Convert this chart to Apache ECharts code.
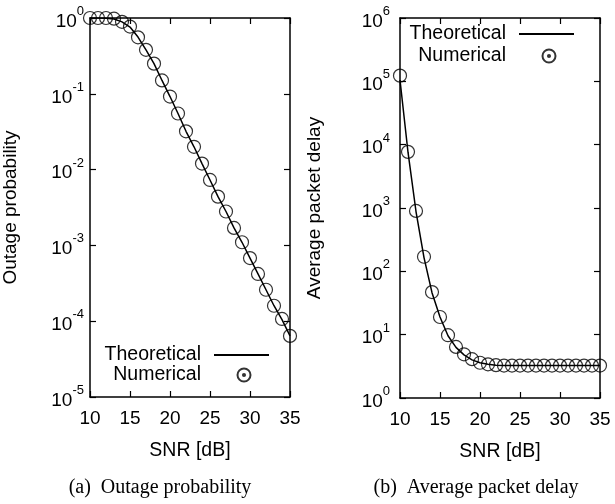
<!DOCTYPE html>
<html>
<head>
<meta charset="utf-8">
<script src="https://cdn.jsdelivr.net/npm/echarts@6/dist/echarts.min.js"></script>
<style>
  html, body { margin: 0; padding: 0; background: #fff; }
  #chart { width: 615px; height: 504px; }
</style>
</head>
<body>
<div id="chart"></div>
<script>
// SNR [dB]
const snr = [10, 11, 12, 13, 14, 15, 16, 17, 18, 19, 20, 21, 22, 23, 24, 25, 26, 27, 28, 29, 30, 31, 32, 33, 34, 35];

// (a) outage probability
const outageTheory = [1.0, 1.0, 0.99, 0.97, 0.89, 0.76, 0.56, 0.38, 0.25, 0.15, 0.092, 0.055, 0.032, 0.02, 0.012,
  0.0073, 0.0044, 0.0028, 0.0017, 0.0011, 6.8e-4, 4.2e-4, 2.6e-4, 1.6e-4, 1.05e-4, 6.4e-5];
const outageNum = [1.0, 1.0, 1.0, 0.98, 0.89, 0.77, 0.556, 0.38, 0.25, 0.15, 0.092, 0.055, 0.032, 0.02, 0.012,
  0.0073, 0.0044, 0.0028, 0.0017, 0.0011, 6.8e-4, 4.2e-4, 2.6e-4, 1.6e-4, 1.07e-4, 6.4e-5];

// (b) average packet delay
const delayTheory = [1.05e5, 7.6e3, 880, 165, 46, 19, 9.6, 6.3, 4.8, 4.0, 3.6, 3.4, 3.3, 3.25, 3.25, 3.25,
  3.25, 3.25, 3.25, 3.25, 3.25, 3.25, 3.25, 3.25, 3.25, 3.25];
const delayNum = [1.23e5, 7.7e3, 900, 170, 47, 19, 9.8, 6.4, 4.9, 4.1, 3.6, 3.4, 3.3, 3.25, 3.25, 3.25,
  3.25, 3.25, 3.25, 3.25, 3.25, 3.25, 3.25, 3.25, 3.25, 3.25];

const SANS = 'Liberation Sans';
const SERIF = 'Liberation Serif';

const pairs = (ys) => snr.map((x, i) => [x, ys[i]]);

// circle with a dot in the middle, like the gnuplot key sample
const dotCircle = 'path://M0,-10A10,10 0 1,1 0,10A10,10 0 1,1 0,-10ZM0,-1.6A1.6,1.6 0 1,1 0,1.6A1.6,1.6 0 1,1 0,-1.6Z';

const supLabel = {
  color: '#000',
  formatter: (v) => '{b|10}{s|' + Math.round(Math.log10(v)) + '}',
  rich: {
    b: { fontFamily: SANS, fontSize: 19, color: '#000', lineHeight: 26, verticalAlign: 'bottom' },
    s: { fontFamily: SANS, fontSize: 13, color: '#000', lineHeight: 14, verticalAlign: 'top' }
  }
};

function xAxisPair(gridIndex) {
  const common = {
    type: 'value', gridIndex: gridIndex, min: 10, max: 35, interval: 5,
    splitLine: { show: false },
    axisLine: { show: true, onZero: false, lineStyle: { color: '#000', width: 1.5 } },
    axisTick: { show: true, inside: true, length: 6, lineStyle: { color: '#000', width: 1.2 } }
  };
  return [
    Object.assign({}, common, {
      position: 'bottom',
      name: 'SNR [dB]', nameLocation: 'middle', nameGap: 44,
      nameTextStyle: { fontFamily: SANS, fontSize: 19.5, color: '#000' },
      axisLabel: { margin: 12, fontFamily: SANS, fontSize: 19, color: '#000' }
    }),
    Object.assign({}, common, { position: 'top', axisLabel: { show: false } })
  ];
}

function yAxisPair(gridIndex, min, max, split, name, nameGap, labelMargin) {
  const common = {
    type: 'log', logBase: 10, gridIndex: gridIndex, min: min, max: max, splitNumber: split,
    splitLine: { show: false },
    minorTick: { show: false },
    axisLine: { show: true, onZero: false, lineStyle: { color: '#000', width: 1.5 } },
    axisTick: { show: true, inside: true, length: 6, lineStyle: { color: '#000', width: 1.2 } }
  };
  return [
    Object.assign({}, common, {
      position: 'left',
      name: name, nameLocation: 'middle', nameGap: nameGap,
      nameTextStyle: { fontFamily: SANS, fontSize: 19, color: '#000' },
      axisLabel: Object.assign({ margin: labelMargin }, supLabel)
    }),
    Object.assign({}, common, { position: 'right', axisLabel: { show: false } })
  ];
}

function lineSeries(xi, yi, ys) {
  return {
    name: 'Theoretical', type: 'line', xAxisIndex: xi, yAxisIndex: yi,
    data: pairs(ys), symbol: 'none', smooth: false,
    lineStyle: { color: '#000', width: 1.5 }, itemStyle: { color: '#000' },
    z: 2
  };
}

function pointSeries(xi, yi, ys) {
  return {
    name: 'Numerical', type: 'scatter', xAxisIndex: xi, yAxisIndex: yi,
    data: pairs(ys), symbol: 'circle', symbolSize: 13,
    itemStyle: { color: 'rgba(0,0,0,0)', borderColor: '#000', borderWidth: 1.2 },
    z: 3
  };
}

// one key entry per legend so the text is right-aligned like gnuplot's key
function lineKey(right, top) {
  return {
    data: ['Theoretical'],
    orient: 'vertical', align: 'right', right: right, top: top,
    padding: 0, itemWidth: 55, itemHeight: 2,
    selectedMode: false,
    textStyle: { fontFamily: SANS, fontSize: 19.5, color: '#000', lineHeight: 20, padding: [0, 8, 0, 0] }
  };
}

function pointKey(right, top) {
  return {
    data: [{ name: 'Numerical', icon: dotCircle }],
    orient: 'vertical', align: 'right', right: right, top: top,
    padding: 0, itemWidth: 13, itemHeight: 13,
    selectedMode: false,
    textStyle: { fontFamily: SANS, fontSize: 19.5, color: '#000', lineHeight: 20, padding: [0, 31.5, 0, 0] }
  };
}

const chart = echarts.init(document.getElementById('chart'), null, { renderer: 'canvas' });

chart.setOption({
  animation: false,
  backgroundColor: '#fff',
  grid: [
    { left: 90, top: 18, width: 200, height: 379 },
    { left: 400, top: 18, width: 200, height: 380 }
  ],
  xAxis: [].concat(xAxisPair(0), xAxisPair(1)),
  yAxis: [].concat(
    yAxisPair(0, 1e-5, 1, 5, 'Outage probability', 70, 6),
    yAxisPair(1, 1, 1e6, 6, 'Average packet delay', 76, 10)
  ),
  legend: [
    lineKey(345, 345),
    pointKey(363.5, 365),
    lineKey(40, 24),
    pointKey(58.5, 46)
  ],
  series: [
    lineSeries(0, 0, outageTheory),
    pointSeries(0, 0, outageNum),
    lineSeries(2, 2, delayTheory),
    pointSeries(2, 2, delayNum)
  ],
  graphic: [
    { type: 'text', x: 160, y: 488, style: { text: '(a)  Outage probability', fontFamily: SERIF, fontSize: 20, fill: '#000', align: 'center', verticalAlign: 'middle' } },
    { type: 'text', x: 476, y: 488, style: { text: '(b)  Average packet delay', fontFamily: SERIF, fontSize: 20, fill: '#000', align: 'center', verticalAlign: 'middle' } }
  ]
});
</script>
</body>
</html>
